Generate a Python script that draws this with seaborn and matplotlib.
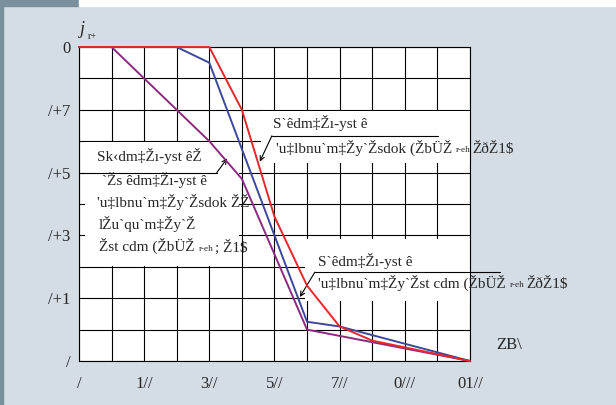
import matplotlib
matplotlib.use("Agg")
import matplotlib.pyplot as plt
from matplotlib.patches import Rectangle
import pandas as pd
import seaborn as sns

# curve break points
red_x = [0, 400, 500, 600, 700, 800, 900, 1200]
red_y = [1.0, 1.0, 0.80, 0.46, 0.24, 0.11, 0.065, 0.0]
blue_x = [0, 300, 400, 700, 800, 1200]
blue_y = [1.0, 1.0, 0.95, 0.125, 0.11, 0.0]
purple_x = [0, 100, 400, 500, 700, 1200]
purple_y = [1.0, 1.0, 0.70, 0.58, 0.10, 0.0]

x_ticks = [0, 200, 400, 600, 800, 1000, 1200]
x_labels = ["/", "1//", "3//", "5//", "7//", "0///", "01//"]
y_ticks = [0, 0.2, 0.4, 0.6, 0.8, 1.0]
y_labels = ["/", "/+1", "/+3", "/+5", "/+7", "0"]

# callout texts (as printed in the source picture)
box1_lines = ["Sk‹dm‡Žı-yst êŽ", "`Žs êdm‡Žı-yst ê", "'u‡lbnu`m‡Žy`Žsdok ŽŽ",
              "lŽu`qu`m‡Žy`Ž", ("Žst cdm (ŽbÜŽ", "r-eh", "; Ž1$")]
box2_lines = ["S`êdm‡Žı-yst ê", ("'u‡lbnu`m‡Žy`Žsdok (ŽbÜŽ", "r-eh", "ŽðŽ1$")]
box3_lines = ["S`êdm‡Žı-yst ê", ("'u‡lbnu`m‡Žy`Žst cdm (ŽbÜŽ", "r-eh", "ŽðŽ1$")]

sns.set_style("white")
plt.rcParams["font.family"] = ["Liberation Serif", "DejaVu Serif"]
FS = 12
TFS = 11

fig = plt.figure(figsize=(6.16, 4.05), dpi=100)
fig.patch.set_facecolor("#d4dde4")
fig.patches.append(Rectangle((0, 0), 0.005, 1, transform=fig.transFigure, color="#7a919d", zorder=0))
fig.patches.append(Rectangle((0, 0.985), 0.128, 0.015, transform=fig.transFigure, color="#7a919d", zorder=0))
fig.patches.append(Rectangle((0.128, 0.985), 0.872, 0.015, transform=fig.transFigure, color="white", zorder=0))

ax = fig.add_axes([0.1282, 0.1086, 0.6347, 0.7753])
ax.set_facecolor("white")
ax.set_xlim(0, 1200)
ax.set_ylim(0, 1)

# grid
for gx in range(0, 1201, 100):
    ax.axvline(gx, color="black", lw=0.8, zorder=1)
for gy in [i / 10 for i in range(11)]:
    ax.axhline(gy, color="black", lw=0.8, zorder=1)

# white callout areas
for (x0, y0, w, h) in [(20, 0.302, 470, 0.394), (560, 0.632, 640, 0.163), (695, 0.19, 505, 0.2)]:
    ax.add_patch(Rectangle((x0, y0), w, h, facecolor="white", edgecolor="none", zorder=2))

df = pd.concat([
    pd.DataFrame({"x": purple_x, "y": purple_y, "s": "p"}),
    pd.DataFrame({"x": blue_x, "y": blue_y, "s": "b"}),
    pd.DataFrame({"x": red_x, "y": red_y, "s": "r"}),
])
n_before = len(ax.lines)
sns.lineplot(data=df, x="x", y="y", hue="s", palette={"p": "#8c2a80", "b": "#3c4899", "r": "#e8262b"},
             sort=False, estimator=None, lw=1.4, legend=False, ax=ax)
for ln in ax.lines[n_before:]:
    ln.set_clip_on(False)
    ln.set_zorder(5)
ax.set_xlim(0, 1200)
ax.set_ylim(0, 1)
ax.set_xlabel("")
ax.set_ylabel("")

ax.set_xticks(x_ticks)
ax.set_xticklabels(x_labels, fontsize=FS)
ax.set_yticks(y_ticks)
ax.set_yticklabels(y_labels, fontsize=FS)
ax.set_xticks(range(100, 1200, 200), minor=True)
ax.set_yticks([0.1, 0.3, 0.5, 0.7, 0.9], minor=True)
ax.tick_params(which="major", direction="inout", length=10, width=0.8, color="black")
ax.tick_params(axis="x", which="major", pad=6)
ax.tick_params(axis="y", which="major", pad=1)
ax.tick_params(which="minor", direction="in", length=5, width=0.8, color="black")
for sp in ax.spines.values():
    sp.set_color("black")
    sp.set_linewidth(0.8)
    sp.set_zorder(2.5)


def write(x, y, line):
    if isinstance(line, str):
        ax.text(x, y, line, fontsize=TFS, va="center", ha="left", zorder=4)
        return
    main, sub, tail = line
    t = ax.text(x, y, main, fontsize=TFS, va="center", ha="left", zorder=4)
    s = ax.annotate(sub, xy=(1, 0), xycoords=t, xytext=(3, 1), textcoords="offset points",
                    fontsize=TFS * 0.6, va="bottom", ha="left", zorder=4)
    ax.annotate(tail, xy=(1, 0), xycoords=s, xytext=(1, -1), textcoords="offset points",
                fontsize=TFS, va="bottom", ha="left", zorder=4)


for (yy, xx), line in zip([(0.652, 55), (0.575, 70), (0.508, 55), (0.435, 61), (0.365, 61)], box1_lines):
    write(xx, yy, line)
for (yy, xx), line in zip([(0.757, 595), (0.68, 604)], box2_lines):
    write(xx, yy, line)
for (yy, xx), line in zip([(0.317, 735), (0.25, 733)], box3_lines):
    write(xx, yy, line)

# underlines and leaders
arrow = dict(arrowstyle="->", lw=0.8, color="black", shrinkA=0, shrinkB=0, mutation_scale=8)
ax.plot([5, 423], [0.6, 0.6], color="black", lw=0.8, zorder=4, clip_on=False)
ax.annotate("", xy=(455, 0.645), xytext=(423, 0.6), arrowprops=arrow, zorder=4)
ax.plot([592, 1101], [0.717, 0.717], color="black", lw=0.8, zorder=4, clip_on=False)
ax.annotate("", xy=(555, 0.635), xytext=(592, 0.717), arrowprops=arrow, zorder=4)
ax.plot([724, 1291], [0.283, 0.283], color="black", lw=0.8, zorder=4, clip_on=False)
ax.annotate("", xy=(678, 0.204), xytext=(724, 0.283), arrowprops=arrow, zorder=4)

# axis labels
ax.text(4, 1.055, "j", fontsize=FS + 1, style="italic", ha="left", va="center", clip_on=False)
ax.text(28, 1.035, "r+", fontsize=FS * 0.6, ha="left", va="center", clip_on=False)
ax.text(1282, 0.05, "ZB\\", fontsize=FS, ha="left", va="center", clip_on=False)

fig.savefig("out.png", dpi=100, facecolor=fig.get_facecolor())
